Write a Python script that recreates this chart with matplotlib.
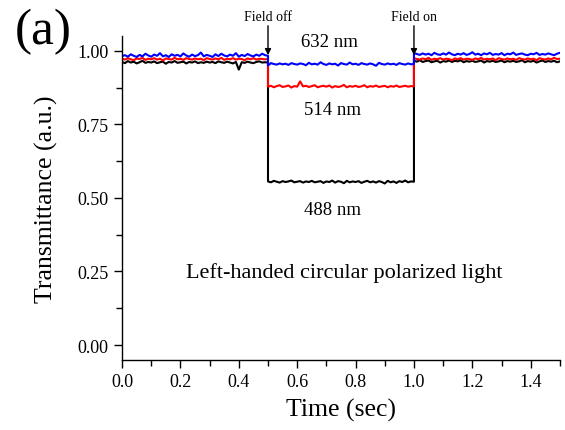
import numpy as np
import matplotlib
matplotlib.use("Agg")
import matplotlib.pyplot as plt
from matplotlib.ticker import MultipleLocator

plt.rcParams['font.family'] = ['Liberation Serif', 'DejaVu Serif']
plt.rcParams['mathtext.fontset'] = 'stix'

# time grids (sec) of the three segments: before field off, field off, field on again
time_pre = np.linspace(0.0, 0.5, 51)
time_mid = np.linspace(0.5, 1.0, 51)
time_post = np.linspace(1.0, 1.5, 51)

# 488 nm (black)
black_pre = [0.962,0.958,0.965,0.960,0.963,0.957,0.961,0.966,0.959,0.962,
             0.960,0.964,0.958,0.961,0.963,0.956,0.962,0.960,0.965,0.959,
             0.961,0.963,0.957,0.962,0.960,0.964,0.958,0.961,0.959,0.963,
             0.960,0.962,0.958,0.964,0.961,0.959,0.963,0.960,0.957,0.962,
             0.936,0.961,0.959,0.963,0.960,0.958,0.962,0.964,0.960,0.961,0.960]
black_mid = [0.556,0.553,0.558,0.555,0.552,0.557,0.554,0.556,0.559,0.553,
             0.555,0.557,0.552,0.556,0.554,0.558,0.553,0.555,0.557,0.551,
             0.556,0.554,0.559,0.552,0.557,0.555,0.550,0.558,0.553,0.556,
             0.554,0.557,0.551,0.555,0.558,0.553,0.556,0.552,0.557,0.554,
             0.549,0.558,0.553,0.556,0.551,0.557,0.554,0.559,0.553,0.556,0.555]
black_post = [0.966,0.963,0.968,0.962,0.965,0.967,0.961,0.964,0.966,0.960,
              0.965,0.963,0.967,0.962,0.966,0.964,0.968,0.961,0.965,0.963,
              0.966,0.962,0.964,0.967,0.960,0.965,0.963,0.966,0.962,0.964,
              0.967,0.961,0.965,0.963,0.966,0.962,0.964,0.968,0.961,0.965,
              0.963,0.966,0.960,0.964,0.967,0.962,0.965,0.963,0.966,0.961,0.964]

# 514 nm (red)
red_pre = [0.973,0.970,0.975,0.971,0.968,0.974,0.972,0.976,0.969,0.973,
           0.971,0.975,0.970,0.973,0.967,0.974,0.972,0.970,0.976,0.971,
           0.973,0.969,0.975,0.972,0.970,0.974,0.971,0.973,0.968,0.975,
           0.972,0.970,0.974,0.971,0.976,0.969,0.973,0.971,0.975,0.970,
           0.973,0.972,0.968,0.974,0.971,0.975,0.970,0.973,0.972,0.971,0.972]
red_mid = [0.878,0.881,0.876,0.880,0.883,0.877,0.879,0.882,0.875,0.880,
           0.878,0.896,0.879,0.881,0.877,0.880,0.883,0.876,0.879,0.881,
           0.878,0.882,0.875,0.880,0.877,0.879,0.884,0.876,0.880,0.878,
           0.881,0.877,0.879,0.883,0.876,0.880,0.878,0.882,0.877,0.879,
           0.881,0.876,0.880,0.878,0.882,0.877,0.879,0.881,0.878,0.880,0.879]
red_post = [0.975,0.972,0.970,0.974,0.971,0.976,0.969,0.973,0.971,0.975,
            0.970,0.973,0.972,0.968,0.974,0.971,0.975,0.970,0.973,0.972,
            0.969,0.974,0.971,0.976,0.970,0.973,0.971,0.974,0.968,0.975,
            0.972,0.970,0.974,0.971,0.973,0.969,0.975,0.972,0.970,0.974,
            0.971,0.973,0.968,0.975,0.972,0.970,0.974,0.971,0.976,0.972,0.973]

# 632 nm (blue)
blue_pre = [0.982,0.985,0.980,0.988,0.983,0.979,0.986,0.981,0.990,0.984,
            0.980,0.987,0.983,0.992,0.981,0.985,0.979,0.988,0.983,0.986,
            0.981,0.991,0.984,0.980,0.987,0.982,0.985,0.994,0.981,0.986,
            0.983,0.979,0.988,0.982,0.990,0.984,0.981,0.987,0.983,0.992,
            0.980,0.986,0.982,0.989,0.984,0.981,0.987,0.983,0.990,0.985,0.983]
blue_mid = [0.950,0.958,0.955,0.953,0.957,0.954,0.956,0.952,0.958,0.955,
            0.953,0.957,0.955,0.951,0.959,0.954,0.956,0.953,0.961,0.955,
            0.952,0.957,0.954,0.956,0.950,0.958,0.955,0.953,0.960,0.954,
            0.956,0.952,0.958,0.955,0.953,0.957,0.954,0.949,0.959,0.955,
            0.953,0.957,0.954,0.956,0.952,0.958,0.955,0.953,0.957,0.954,0.955]
blue_post = [0.992,0.989,0.986,0.991,0.987,0.990,0.985,0.993,0.988,0.986,
             0.991,0.987,0.994,0.988,0.985,0.990,0.987,0.992,0.986,0.989,
             0.995,0.987,0.990,0.985,0.991,0.988,0.993,0.986,0.989,0.987,
             0.992,0.985,0.990,0.988,0.994,0.986,0.989,0.991,0.987,0.985,
             0.990,0.988,0.993,0.986,0.989,0.987,0.991,0.988,0.985,0.990,0.993]

series_names = ["488 nm", "514 nm", "632 nm"]
series_colors = ["black", "red", "blue"]
time = np.concatenate([time_pre, time_mid, time_post])
series_values = [black_pre + black_mid + black_post,
                 red_pre + red_mid + red_post,
                 blue_pre + blue_mid + blue_post]

field_events = [0.5, 1.0]
field_labels = ["Field off", "Field on"]

x_ticks = [0.0, 0.2, 0.4, 0.6, 0.8, 1.0, 1.2, 1.4]
y_ticks = [0.00, 0.25, 0.50, 0.75, 1.00]

fig = plt.figure(figsize=(5.65, 4.31), dpi=100)
ax = fig.add_axes([0.216, 0.163, 0.775, 0.751])

for vals, col in zip(series_values, series_colors):
    ax.plot(time, vals, color=col, lw=1.5)

ax.set_xlim(0.0, 1.5)
ax.set_ylim(-0.05, 1.05)
ax.set_xticks(x_ticks)
ax.set_yticks(y_ticks)
ax.set_xticklabels([f"{v:.1f}" for v in x_ticks])
ax.set_yticklabels([f"{v:.2f}" for v in y_ticks])
ax.xaxis.set_minor_locator(MultipleLocator(0.1))
ax.yaxis.set_minor_locator(MultipleLocator(0.125))
ax.tick_params(which='both', direction='out', labelsize=13, width=1.0)
ax.tick_params(which='major', length=6)
ax.tick_params(which='minor', length=4)
for s in ['top', 'right']:
    ax.spines[s].set_visible(False)
for s in ['left', 'bottom']:
    ax.spines[s].set_linewidth(1.0)

ax.set_xlabel("Time (sec)", fontsize=18.5, labelpad=6)
ax.set_ylabel("Transmittance (a.u.)", fontsize=18.5, labelpad=14)

for xe, lab in zip(field_events, field_labels):
    ax.annotate("", xy=(xe, 0.985), xytext=(xe, 1.085),
                arrowprops=dict(arrowstyle='-|>', color='black', lw=1.0,
                                mutation_scale=9, shrinkA=0, shrinkB=0),
                annotation_clip=False)
    ax.text(xe, 1.117, lab, ha='center', va='center', fontsize=10, clip_on=False)

ax.text(0.712, 1.03, "632 nm", ha='center', va='center', fontsize=13.5)
ax.text(0.72, 0.80, "514 nm", ha='center', va='center', fontsize=13.5)
ax.text(0.72, 0.462, "488 nm", ha='center', va='center', fontsize=13.5)
ax.text(0.76, 0.247, "Left-handed circular polarized light",
        ha='center', va='center', fontsize=16)

fig.text(0.076, 0.925, "(a)", ha='center', va='center', fontsize=37)

fig.savefig("out.png", dpi=100)
